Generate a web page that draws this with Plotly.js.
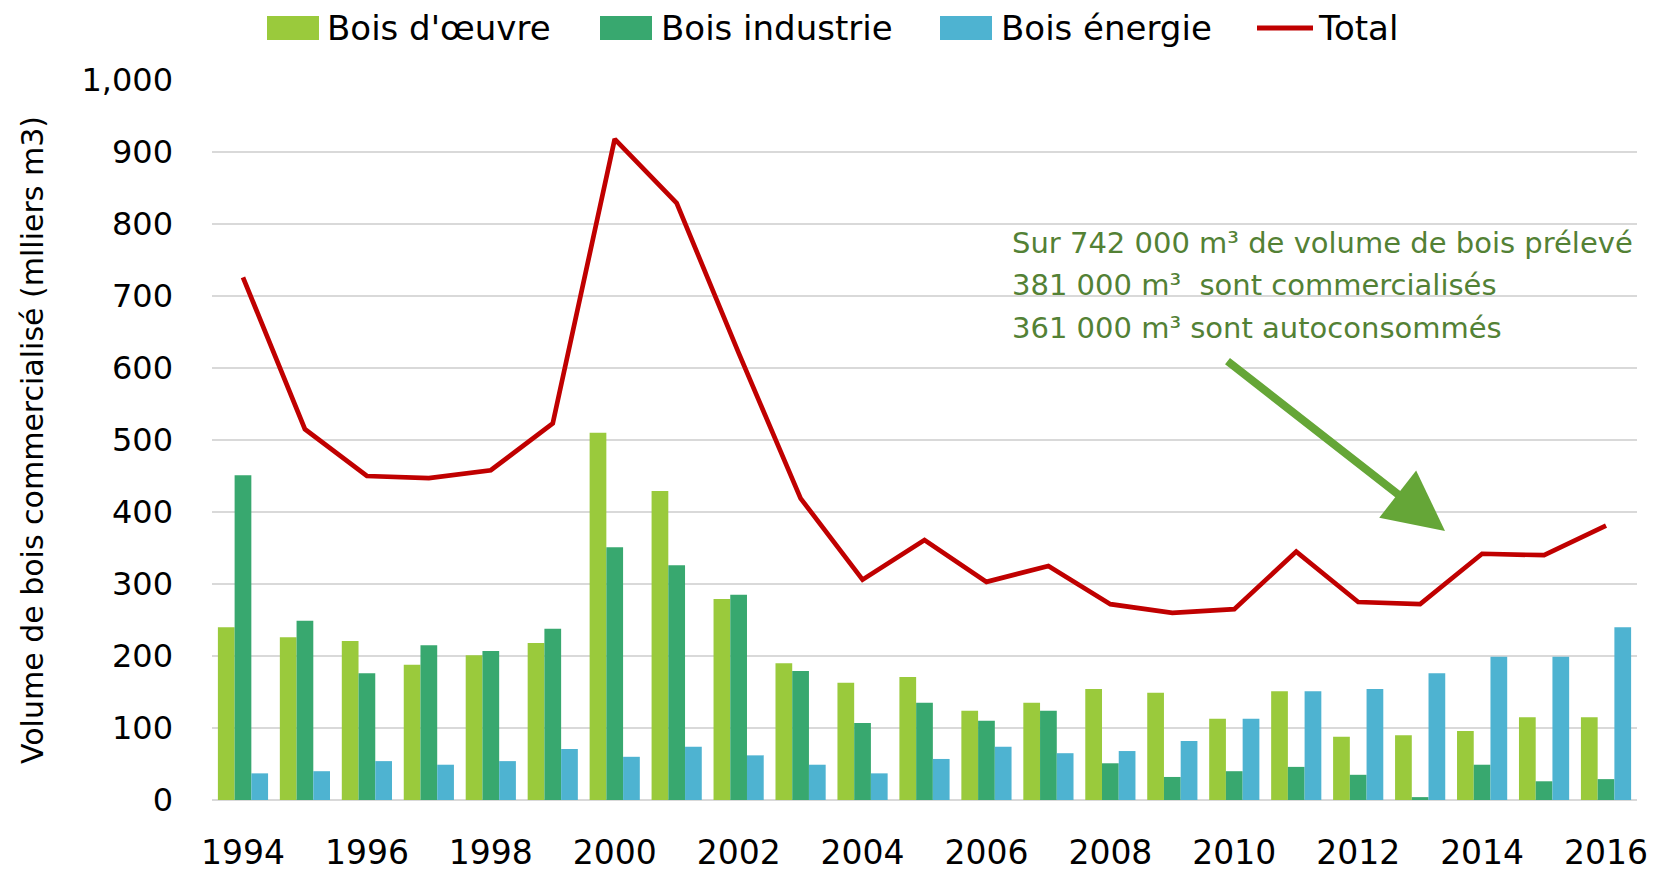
<!DOCTYPE html>
<html>
<head>
<meta charset="utf-8">
<script src="https://cdn.plot.ly/plotly-3.0.1.min.js"></script>
<style>html,body{margin:0;padding:0;background:#fff;}#chart{width:1654px;height:872px;}</style>
</head>
<body>
<div id="chart"></div>
<script>
// Data (thousand m3)
const years = [1994,1995,1996,1997,1998,1999,2000,2001,2002,2003,2004,2005,2006,2007,2008,2009,2010,2011,2012,2013,2014,2015,2016];
const boisOeuvre   = [240,226,221,188,201,218,510,429,279,190,163,171,124,135,154,149,113,151,88,90,96,115,115];
const boisIndustrie= [451,249,176,215,207,238,351,326,285,179,107,135,110,124,51,32,40,46,35,4,49,26,29];
const boisEnergie  = [37,40,54,49,54,71,60,74,62,49,37,57,74,65,68,82,113,151,154,176,199,199,240];
const total        = [726,515,450,447,458,523,918,829,621,419,306,361,303,325,272,260,265,345,275,272,342,340,381];
const xTicks = [1994,1996,1998,2000,2002,2004,2006,2008,2010,2012,2014,2016];
const yTicks = [0,100,200,300,400,500,600,700,800,900,1000];
const seriesNames = ["Bois d'œuvre","Bois industrie","Bois énergie","Total"];
const seriesColors = ['#9ACA3C','#38A86F','#4EB3D1','#C00000'];
const noteLines = ["Sur 742 000 m³ de volume de bois prélevé","381 000 m³  sont commercialisés","361 000 m³ sont autoconsommés"];

const FONT = "'DejaVu Sans', sans-serif";
const W = 1654, H = 872;
const M = {l:212, r:17, t:80, b:72};
const PW = W - M.l - M.r, PH = H - M.t - M.b;
const px2x = p => (p - M.l) / PW;        // page pixel -> paper x
const py2y = p => (H - M.b - p) / PH;    // page pixel -> paper y

const barSeries = [boisOeuvre, boisIndustrie, boisEnergie];
const traces = barSeries.map((vals, i) => ({type:'bar', name:seriesNames[i], x:years, y:vals, marker:{color:seriesColors[i]}}));
traces.push({type:'scatter', mode:'lines', name:seriesNames[3], x:years, y:total, line:{color:seriesColors[3], width:4.7}});

// custom legend (large swatches like the original)
const legendSwatchX = [267, 600, 940, 1257];
const legendSwatchW = [52, 52, 52, 56];
const legendTextX = [325, 659, 999, 1316];
const legendCY = 28;
const shapes = [];
const annotations = [];
seriesNames.forEach((n, i) => {
  if (i < 3) {
    shapes.push({type:'rect', xref:'paper', yref:'paper', x0:px2x(legendSwatchX[i]), x1:px2x(legendSwatchX[i]+legendSwatchW[i]),
                 y0:py2y(legendCY+12), y1:py2y(legendCY-12), fillcolor:seriesColors[i], line:{width:0}});
  } else {
    shapes.push({type:'line', xref:'paper', yref:'paper', x0:px2x(legendSwatchX[i]), x1:px2x(legendSwatchX[i]+legendSwatchW[i]),
                 y0:py2y(legendCY), y1:py2y(legendCY), line:{color:seriesColors[i], width:5}});
  }
  annotations.push({xref:'paper', yref:'paper', x:px2x(legendTextX[i]), y:py2y(legendCY), xanchor:'left', yanchor:'middle',
                    showarrow:false, text:n, font:{size:34, family:FONT, color:'#000'}});
});

const noteCY = [243, 285, 328];
noteLines.forEach((t, i) => {
  annotations.push({xref:'paper', yref:'paper', x:px2x(1010), y:py2y(noteCY[i]), xanchor:'left', yanchor:'middle',
      align:'left', showarrow:false, text:t, font:{size:29, family:FONT, color:'#538135'}});
});
annotations.push({xref:'paper', yref:'paper', x:px2x(1445), y:py2y(531), text:'', showarrow:true, axref:'pixel', ayref:'pixel',
     ax:-219, ay:-171, arrowhead:2, arrowsize:1.5, arrowwidth:8, arrowcolor:'#65A637', standoff:0});

const layout = {
  width:W, height:H,
  margin:M,
  paper_bgcolor:'#fff', plot_bgcolor:'#fff',
  font:{family:FONT, color:'#000'},
  barmode:'group', bargap:0.19, bargroupgap:0,
  showlegend:false,
  xaxis:{range:[1993.5,2016.5], tickmode:'array', tickvals:xTicks, ticktext:xTicks.map(String),
         showgrid:false, zeroline:false, showline:false, ticks:'', tickfont:{size:33, family:FONT},
         ticklabelstandoff:30},
  yaxis:{range:[0,1000], tickmode:'array', tickvals:yTicks, tickformat:',', showgrid:true, gridcolor:'#D9D9D9', gridwidth:1.6,
         zeroline:true, zerolinecolor:'#D9D9D9', zerolinewidth:1.6, showline:false, ticks:'',
         tickfont:{size:32, family:FONT}, ticklabelstandoff:38,
         title:{text:'Volume de bois commercialisé (mlliers m3)', font:{size:30, family:FONT}, standoff:28}},
  shapes:shapes,
  annotations:annotations
};

Plotly.newPlot('chart', traces, layout, {displayModeBar:false, staticPlot:true});
</script>
</body>
</html>
